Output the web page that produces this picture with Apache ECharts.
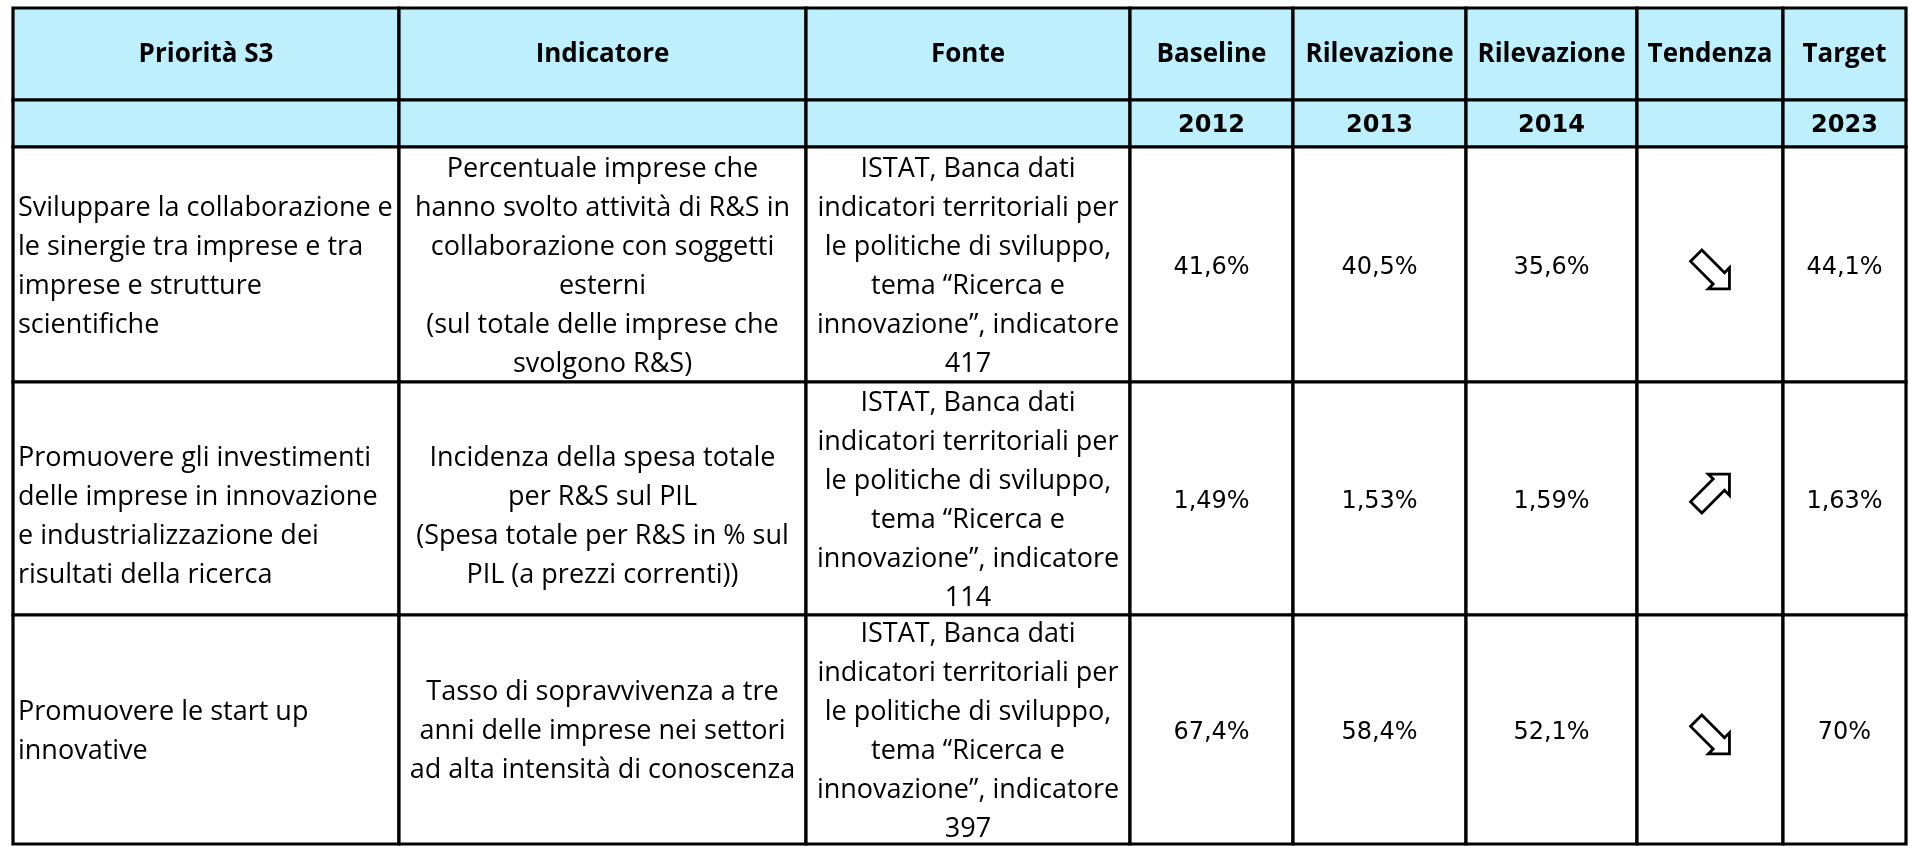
<!DOCTYPE html>
<html>
<head>
<meta charset="utf-8">
<title>Priorità S3</title>
<script src="https://cdn.jsdelivr.net/npm/echarts@6/dist/echarts.min.js"></script>
<style>
  html, body { margin: 0; padding: 0; background: #fff; }
  #main { width: 1910px; height: 846px; }
</style>
</head>
<body>
<div id="main"></div>
<script>
// table content
const headers = ['Priorità S3', 'Indicatore', 'Fonte', 'Baseline', 'Rilevazione', 'Rilevazione', 'Tendenza', 'Target']
const years = ['', '', '', '2012', '2013', '2014', '', '2023']
const priorities = [
  'Sviluppare la collaborazione e\nle sinergie tra imprese e tra\nimprese e strutture\nscientifiche',
  'Promuovere gli investimenti\ndelle imprese in innovazione\ne industrializzazione dei\nrisultati della ricerca',
  'Promuovere le start up\ninnovative'
]
const indicators = [
  'Percentuale imprese che\nhanno svolto attività di R&S in\ncollaborazione con soggetti\nesterni\n(sul totale delle imprese che\nsvolgono R&S)',
  'Incidenza della spesa totale\nper R&S sul PIL\n(Spesa totale per R&S in % sul\nPIL (a prezzi correnti))',
  'Tasso di sopravvivenza a tre\nanni delle imprese nei settori\nad alta intensità di conoscenza'
]
const sources = [
  'ISTAT, Banca dati\nindicatori territoriali per\nle politiche di sviluppo,\ntema “Ricerca e\ninnovazione”, indicatore\n417',
  'ISTAT, Banca dati\nindicatori territoriali per\nle politiche di sviluppo,\ntema “Ricerca e\ninnovazione”, indicatore\n114',
  'ISTAT, Banca dati\nindicatori territoriali per\nle politiche di sviluppo,\ntema “Ricerca e\ninnovazione”, indicatore\n397'
]
const baseline2012 = [41.6, 1.49, 67.4]
const rilevazione2013 = [40.5, 1.53, 58.4]
const rilevazione2014 = [35.6, 1.59, 52.1]
const trend = ['down', 'up', 'down']
const target2023 = [44.1, 1.63, 70]

// layout (pixel grid of the table)
const colEdges = [13, 399, 806, 1130, 1293, 1466, 1637, 1783, 1906]
const rowEdges = [8, 100, 147, 382, 615, 844]
const rowShift = { 3: [16, 16, 0] } // row index -> per column text offset

const headerBlue = '#bdeffc'
const bodyFont = '27px "Open Sans", sans-serif'
const numFont = '24px "DejaVu Sans", sans-serif'

const pct = (v) => String(v).replace('.', ',') + '%'

function cellContent (c, r) {
  if (r === 0) return { text: headers[c], font: 'bold 26px "Open Sans", sans-serif' }
  if (r === 1) return { text: years[c], font: 'bold 24px "DejaVu Sans", sans-serif' }
  const i = r - 2
  switch (c) {
    case 0: return { text: priorities[i], font: bodyFont, left: true }
    case 1: return { text: indicators[i], font: bodyFont }
    case 2: return { text: sources[i], font: bodyFont }
    case 3: return { text: pct(baseline2012[i]), font: numFont, num: true }
    case 4: return { text: pct(rilevazione2013[i]), font: numFont, num: true }
    case 5: return { text: pct(rilevazione2014[i]), font: numFont, num: true }
    case 6: return { arrow: trend[i] }
    default: return { text: pct(target2023[i]), font: numFont, num: true }
  }
}

function arrowPoints (dir, cx, cy) {
  const L = 47; const h = 15; const wh = 15; const ws = 8
  const s = Math.SQRT1_2
  const d = dir === 'up' ? [s, -s] : [s, s]
  const n = [-d[1], d[0]]
  const local = [
    [-L / 2, -ws], [L / 2 - h, -ws], [L / 2 - h, -wh], [L / 2, 0],
    [L / 2 - h, wh], [L / 2 - h, ws], [-L / 2, ws]
  ]
  let pts = local.map(([u, v]) => [u * d[0] + v * n[0], u * d[1] + v * n[1]])
  const xs = pts.map(p => p[0]); const ys = pts.map(p => p[1])
  const ox = (Math.min(...xs) + Math.max(...xs)) / 2
  const oy = (Math.min(...ys) + Math.max(...ys)) / 2
  pts = pts.map(p => [p[0] - ox + cx, p[1] - oy + cy])
  return pts
}

const cells = []
for (let r = 0; r < rowEdges.length - 1; r++) {
  for (let c = 0; c < colEdges.length - 1; c++) cells.push([c, r])
}

const chart = echarts.init(document.getElementById('main'))
chart.setOption({
  animation: false,
  backgroundColor: '#fff',
  grid: { left: 0, right: 0, top: 0, bottom: 0 },
  xAxis: { type: 'value', min: 0, max: 1910, show: false },
  yAxis: { type: 'value', min: 0, max: 846, inverse: true, show: false },
  series: [{
    type: 'custom',
    data: cells,
    renderItem: (params, api) => {
      const c = api.value(0)
      const r = api.value(1)
      const p0 = api.coord([colEdges[c], rowEdges[r]])
      const p1 = api.coord([colEdges[c + 1], rowEdges[r + 1]])
      const x = p0[0]; const y = p0[1]
      const w = p1[0] - p0[0]; const h = p1[1] - p0[1]
      const children = [{
        type: 'rect',
        shape: { x, y, width: w, height: h },
        style: { fill: r < 2 ? headerBlue : '#fff', stroke: '#000', lineWidth: 3.2 }
      }]
      const cont = cellContent(c, r)
      const cx = x + w / 2
      const cy = y + h / 2
      if (cont.arrow) {
        children.push({
          type: 'polygon',
          shape: { points: arrowPoints(cont.arrow, cx, cy + (cont.arrow === 'up' ? -5 : 5)) },
          style: { fill: '#fff', stroke: '#000', lineWidth: 2.8 },
          z2: 10
        })
      } else if (cont.text) {
        let ty = cy + (r === 0 ? 1 : 2)
        if (cont.num) ty = cy + 3
        if (rowShift[r] && rowShift[r][c]) ty += rowShift[r][c]
        children.push({
          type: 'text',
          z2: 10,
          style: {
            text: cont.text,
            x: cont.left ? x + 5 : cx,
            y: ty,
            font: cont.font,
            fill: '#000',
            lineHeight: 39,
            align: cont.left ? 'left' : 'center',
            textAlign: cont.left ? 'left' : 'center',
            verticalAlign: 'middle',
            textVerticalAlign: 'middle'
          }
        })
      }
      return { type: 'group', children }
    }
  }]
})
</script>
</body>
</html>
